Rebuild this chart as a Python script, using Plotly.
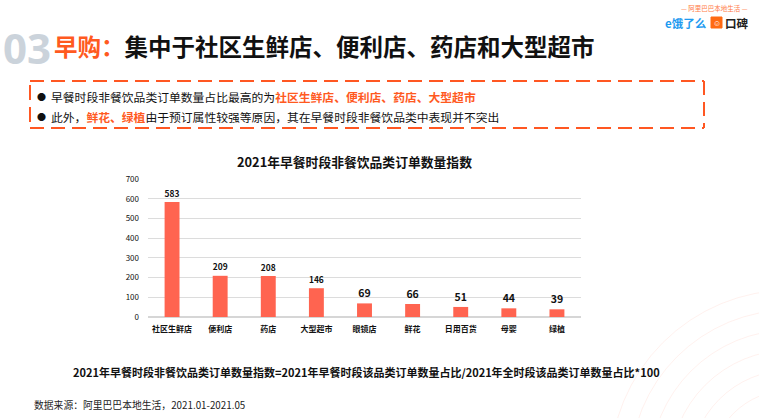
import plotly.graph_objects as go

categories = ["社区生鲜店", "便利店", "药店", "大型超市", "眼镜店", "鲜花", "日用百货", "母婴", "绿植"]
values = [583, 209, 208, 146, 69, 66, 51, 44, 39]
y_ticks = [0, 100, 200, 300, 400, 500, 600, 700]

W, H = 759, 418
PX0, PX1, PY0, PY1 = 148, 581, 179, 317  # plot area in pixels
FONT = "Noto Sans CJK SC"
ORANGE = "#FF5A1F"


def px(x):
    return (x - PX0) / (PX1 - PX0)


def py(y):
    return (PY1 - y) / (PY1 - PY0)


fig = go.Figure()
fig.add_trace(go.Bar(
    x=categories, y=values,
    marker=dict(color="#FF6450", line=dict(width=0)),
    text=[f"<b>{v}</b>" for v in values],
    textposition="outside",
    textfont=dict(family=FONT, size=10.5, color="#111111"),
    cliponaxis=False,
))

fig.update_layout(
    width=W, height=H,
    margin=dict(l=PX0, r=W - PX1, t=PY0, b=H - PY1, pad=0),
    paper_bgcolor="white", plot_bgcolor="white",
    showlegend=False,
    bargap=0.69,
    font=dict(family=FONT, color="#111111"),
    xaxis=dict(
        type="category", showgrid=False, showline=False, zeroline=False,
        tickfont=dict(family=FONT, size=8, color="#111111"),
        ticks="", ticklabelstandoff=6,
        tickvals=categories, ticktext=[f"<b>{c}</b>" for c in categories],
        fixedrange=True,
    ),
    yaxis=dict(
        range=[0, 700], tickvals=y_ticks, ticktext=[str(t) for t in y_ticks],
        showgrid=True, gridcolor="#DCDCDC", gridwidth=1,
        zeroline=True, zerolinecolor="#D6D6D6", zerolinewidth=1.5,
        showline=False, ticks="",
        tickfont=dict(family=FONT, size=8, color="#111111"),
        ticklabelstandoff=8, fixedrange=True,
    ),
)

shapes = []
# decorative faint arcs bottom right
for r in [40, 60, 80, 100, 120, 140, 160, 180]:
    cx, cy = 790, 470
    shapes.append(dict(type="circle", xref="paper", yref="paper",
                       x0=px(cx - r), x1=px(cx + r), y0=py(cy + r), y1=py(cy - r),
                       line=dict(color="rgba(255,120,90,0.10)", width=1), layer="below"))

# dashed box
dash = "14px,7px"
bx0, bx1, by0, by1 = 30, 704, 81, 128
shapes += [
    dict(type="line", xref="paper", yref="paper", x0=px(bx0), x1=px(bx1), y0=py(by0), y1=py(by0),
         line=dict(color="#FF5722", width=2, dash=dash)),
    dict(type="line", xref="paper", yref="paper", x0=px(bx0), x1=px(bx1), y0=py(by1), y1=py(by1),
         line=dict(color="#FF5722", width=2, dash=dash)),
    dict(type="line", xref="paper", yref="paper", x0=px(bx1), x1=px(bx1), y0=py(by0), y1=py(by1),
         line=dict(color="#FF5722", width=2, dash=dash)),
    dict(type="line", xref="paper", yref="paper", x0=px(bx0), x1=px(bx0), y0=py(85), y1=py(100),
         line=dict(color="#FF5722", width=2)),
    dict(type="line", xref="paper", yref="paper", x0=px(bx0), x1=px(bx0), y0=py(107), y1=py(122),
         line=dict(color="#FF5722", width=2)),
    # logo icon
    dict(type="rect", xref="paper", yref="paper", x0=px(711), x1=px(722), y0=py(28), y1=py(17),
         fillcolor="#FF6A13", line=dict(color="#FF6A13", width=1)),
]
fig.update_layout(shapes=shapes)

ann = []


def text(x, y, s, size, color="#111111", anchor="left", family=FONT):
    ann.append(dict(xref="paper", yref="paper", x=px(x), y=py(y), text=s, showarrow=False,
                    xanchor=anchor, yanchor="middle",
                    font=dict(family=family, size=size, color=color)))


text(1, 47, "<b>03</b>", 42, "#CBD3DB", family="Open Sans")
text(52, 46, f'<b><span style="color:{ORANGE}">早购：</span>集中于社区生鲜店、便利店、药店和大型超市</b>', 23.5)

# logo
text(714, 8, "— 阿里巴巴本地生活 —", 6.5, "#FF7A45", anchor="center")
text(663, 23, "<b>e饿了么</b>", 11.5, "#1E9BF0")
text(716.5, 22.5, "<b>☺</b>", 8, "white", anchor="center")
text(723, 23, "<b>口碑</b>", 11.5, "#222222")

# bullets
text(35, 96, "●", 9)
text(49, 96, f'早餐时段非餐饮品类订单数量占比最高的为<b><span style="color:{ORANGE}">社区生鲜店、便利店、药店、大型超市</span></b>', 11.8)
text(35, 116, "●", 9)
text(49, 116, f'此外，<b><span style="color:{ORANGE}">鲜花、绿植</span></b>由于预订属性较强等原因，其在早餐时段非餐饮品类中表现并不突出', 11.8)

# chart title
text(354, 161, "<b>2021年早餐时段非餐饮品类订单数量指数</b>", 12.8, anchor="center")

# formula and source
text(366, 372, "<b>2021年早餐时段非餐饮品类订单数量指数=2021年早餐时段该品类订单数量占比/2021年全时段该品类订单数量占比*100</b>", 11, anchor="center")
text(32, 405, "数据来源：阿里巴巴本地生活，2021.01-2021.05", 9.8, "#222222")

fig.update_layout(annotations=ann)
fig.write_html("out.html", config={"displayModeBar": False},
               post_script="document.body.style.margin='0';document.body.style.overflow='hidden';")
